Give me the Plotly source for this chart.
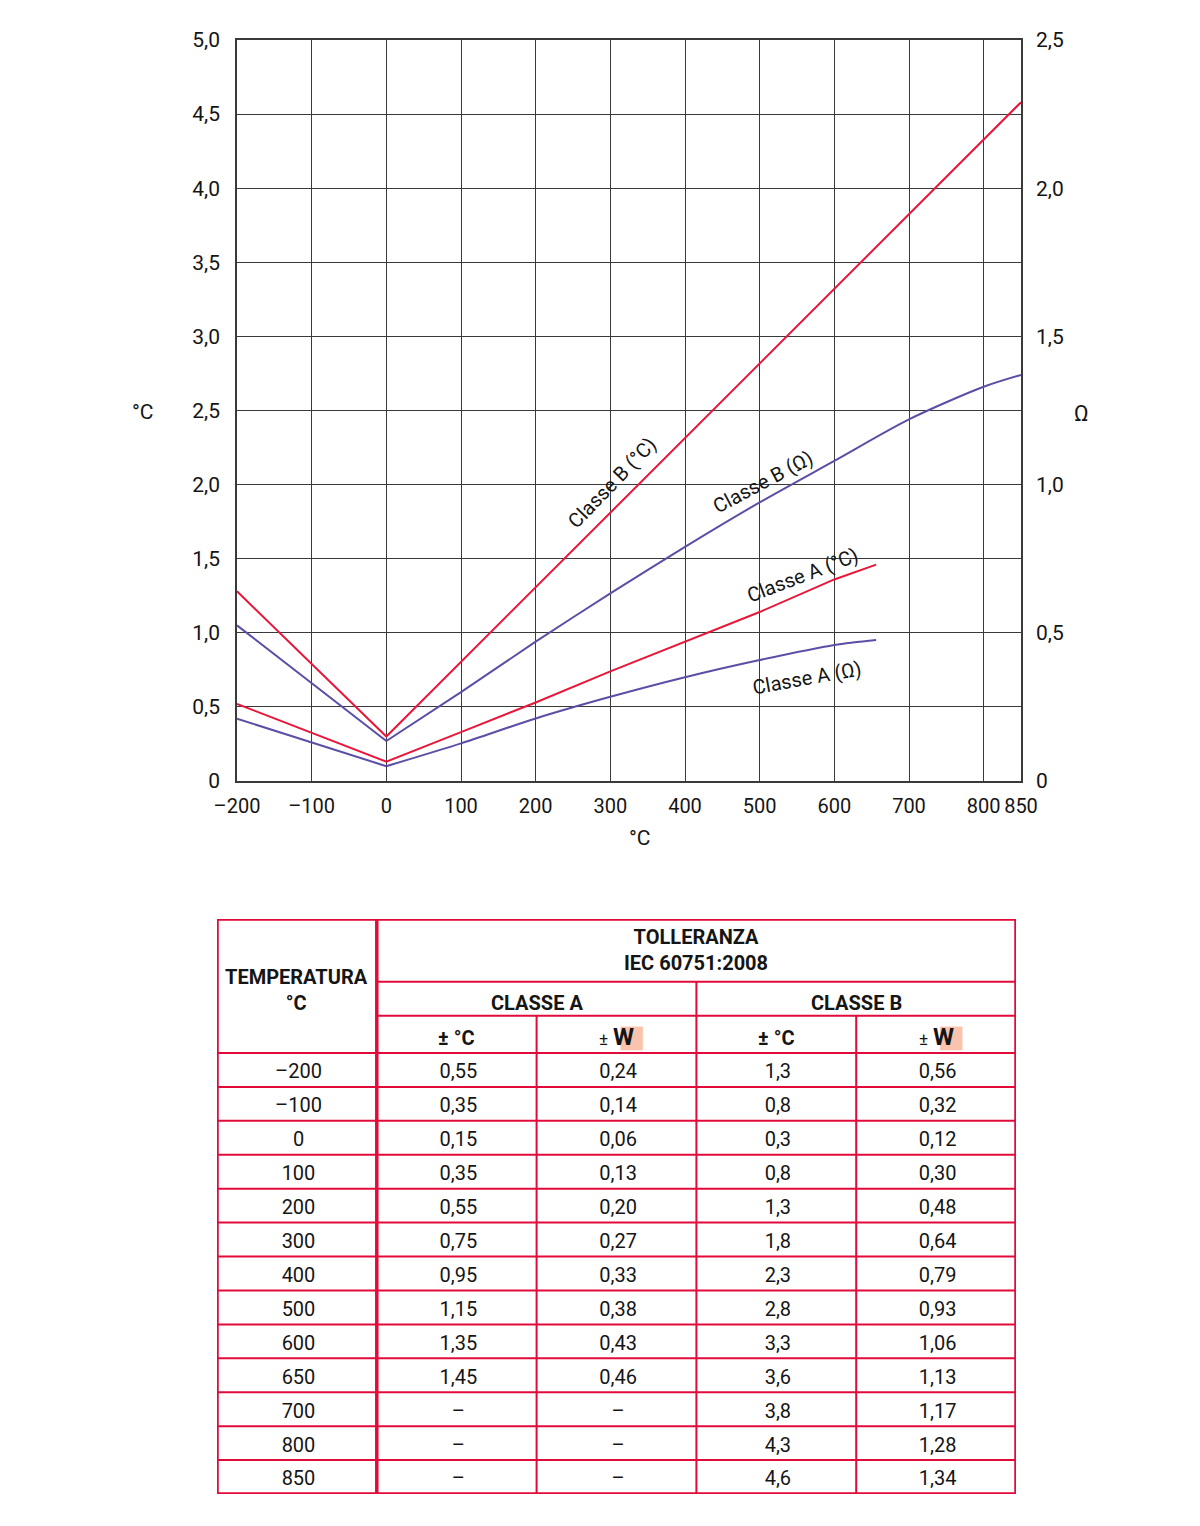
import plotly.graph_objects as go

# ---------------- data (table) ----------------
temps = [-200, -100, 0, 100, 200, 300, 400, 500, 600, 650, 700, 800, 850]
classe_a_c = [0.55, 0.35, 0.15, 0.35, 0.55, 0.75, 0.95, 1.15, 1.35, 1.45, None, None, None]
classe_a_ohm = [0.24, 0.14, 0.06, 0.13, 0.20, 0.27, 0.33, 0.38, 0.43, 0.46, None, None, None]
classe_b_c = [1.3, 0.8, 0.3, 0.8, 1.3, 1.8, 2.3, 2.8, 3.3, 3.6, 3.8, 4.3, 4.6]
classe_b_ohm = [0.56, 0.32, 0.12, 0.30, 0.48, 0.64, 0.79, 0.93, 1.06, 1.13, 1.17, 1.28, 1.34]

# ---------------- data (curves) ----------------
curve_b_c_x = [-200, 0, 850]
curve_b_c_y = [1.28, 0.30, 4.58]
curve_a_c_x = [-200, 0, 100, 200, 300, 400, 500, 600, 656]
curve_a_c_y = [0.52, 0.13, 0.33, 0.53, 0.74, 0.94, 1.14, 1.36, 1.46]
# Ohm curves: negative branch (straight) and positive branch (curved)
curve_b_ohm_neg_x = [-200, 0]
curve_b_ohm_neg_y = [0.525, 0.135]
curve_b_ohm_pos_x = [0, 100, 200, 300, 400, 500, 600, 700, 800, 850]
curve_b_ohm_pos_y = [0.135, 0.30, 0.47, 0.633, 0.79, 0.94, 1.08, 1.22, 1.33, 1.37]
curve_a_ohm_neg_x = [-200, 0]
curve_a_ohm_neg_y = [0.21, 0.05]
curve_a_ohm_pos_x = [0, 100, 200, 300, 400, 500, 600, 656]
curve_a_ohm_pos_y = [0.05, 0.127, 0.211, 0.284, 0.35, 0.408, 0.459, 0.476]

x_ticks = [-200, -100, 0, 100, 200, 300, 400, 500, 600, 700, 800, 850]
x_ticktext = ["\u2013200", "\u2013100", "0", "100", "200", "300", "400", "500", "600", "700", "800", "850"]
y_ticks = [0, 0.5, 1.0, 1.5, 2.0, 2.5, 3.0, 3.5, 4.0, 4.5, 5.0]
y_ticktext = ["0", "0,5", "1,0", "1,5", "2,0", "2,5", "3,0", "3,5", "4,0", "4,5", "5,0"]
y2_ticks = [0, 0.5, 1.0, 1.5, 2.0, 2.5]
y2_ticktext = ["0", "0,5", "1,0", "1,5", "2,0", "2,5"]

# ---------------- style ----------------
W, H = 1200, 1526
OFF = 8  # page body margin
FONT = "Roboto, Liberation Sans, sans-serif"
RED = "#e8173a"
PURPLE = "#5a4fa6"
GRID = "#3a3a3a"
TRED = "#e20a3a"
TXT = "#151515"


def fx(px):
    return (px - OFF) / W


def fy(py):
    return 1 - (py - OFF) / H


fig = go.Figure()


def add_line(xs, ys, color, yaxis, shape="linear"):
    fig.add_trace(go.Scatter(x=xs, y=ys, mode="lines",
                             line=dict(color=color, width=2, shape=shape, smoothing=0.8),
                             xaxis="x", yaxis=yaxis, showlegend=False, hoverinfo="skip"))


add_line(curve_b_c_x, curve_b_c_y, RED, "y")
add_line(curve_a_c_x, curve_a_c_y, RED, "y")
add_line(curve_b_ohm_neg_x, curve_b_ohm_neg_y, PURPLE, "y2")
add_line(curve_b_ohm_pos_x, curve_b_ohm_pos_y, PURPLE, "y2", "spline")
add_line(curve_a_ohm_neg_x, curve_a_ohm_neg_y, PURPLE, "y2")
add_line(curve_a_ohm_pos_x, curve_a_ohm_pos_y, PURPLE, "y2", "spline")

# line labels
labels = [
    ("Classe B (°C)", 302, 2.01, -46),
    ("Classe B (Ω)", 504, 2.02, -28),
    ("Classe A (°C)", 558, 1.39, -21),
    ("Classe A (Ω)", 563, 0.695, -10),
]
annotations = []
for t, lx, ly, ang in labels:
    annotations.append(dict(text=t, x=lx, y=ly, xref="x", yref="y", showarrow=False,
                            xanchor="center", yanchor="middle",
                            textangle=ang, font=dict(family=FONT, size=20, color=TXT)))

# axis titles
for t, px, py, sz in [("°C", 143, 412, 21), ("Ω", 1081, 414, 22), ("°C", 640, 838, 21)]:
    annotations.append(dict(text=t, x=fx(px), y=fy(py), xref="paper", yref="paper",
                            xanchor="center", yanchor="middle",
                            showarrow=False, font=dict(family=FONT, size=sz, color=TXT)))

# ---------------- table (on its own axes) ----------------
HDR1_TOP, HDR2_TOP, HDR3_TOP = -3.95, -2.1, -1.1
n_rows = len(temps)
shapes = []


def hline(y, x0, x1, w=2):
    shapes.append(dict(type="line", xref="x3", yref="y3", x0=x0, x1=x1, y0=y, y1=y,
                       line=dict(color=TRED, width=w)))


def vline(x, y0, y1, w=2):
    shapes.append(dict(type="line", xref="x3", yref="y3", x0=x, x1=x, y0=y0, y1=y1,
                       line=dict(color=TRED, width=w)))


for cx in (2, 4):
    shapes.append(dict(type="rect", xref="x3", yref="y3", x0=cx + 0.525, x1=cx + 0.665,
                       y0=-0.78, y1=-0.08, fillcolor="#f9c3ad", line=dict(width=0), layer="below"))

hline(HDR2_TOP, 1, 5)
hline(HDR3_TOP, 1, 5)
hline(0, 0, 5)
for i in range(1, n_rows):
    hline(i, 0, 5)
vline(3, HDR2_TOP, n_rows)
vline(2, HDR3_TOP, n_rows)
vline(4, HDR3_TOP, n_rows)
vline(1, HDR1_TOP, n_rows, w=3.5)
shapes.append(dict(type="rect", xref="x3", yref="y3", x0=0, x1=5, y0=HDR1_TOP, y1=n_rows,
                   line=dict(color=TRED, width=3.5)))

hfont = dict(family=FONT, size=20, color=TXT)


def tann(text, x, y):
    annotations.append(dict(text=text, x=x, y=y, xref="x3", yref="y3", showarrow=False,
                            xanchor="center", yanchor="middle", font=hfont))


tann("<b>TEMPERATURA</b><br><b>°C</b>", 0.5, -1.85)
tann("<b>TOLLERANZA</b><br><b>IEC 60751:2008</b>", 3, (HDR1_TOP + HDR2_TOP) / 2)
tann("<b>CLASSE A</b>", 2, (HDR2_TOP + HDR3_TOP) / 2 + 0.12)
tann("<b>CLASSE B</b>", 4, (HDR2_TOP + HDR3_TOP) / 2 + 0.12)
for cx in (1.5, 3.5):
    tann("<b>± °C</b>", cx, HDR3_TOP / 2 + 0.1)
for cx in (2.5, 4.5):
    tann("<span style='font-size:17px'>±</span> <b><span style='font-size:24px'>W</span></b>",
         cx, HDR3_TOP / 2 + 0.08)


def fmt(v, nd):
    if v is None:
        return "\u2013"
    return f"{v:.{nd}f}".replace(".", ",")


cell_x, cell_y, cell_t = [], [], []
for i, t in enumerate(temps):
    row = [str(t).replace("-", "\u2013"), fmt(classe_a_c[i], 2), fmt(classe_a_ohm[i], 2),
           fmt(classe_b_c[i], 1), fmt(classe_b_ohm[i], 2)]
    for j, s in enumerate(row):
        cell_x.append(j + 0.51)
        cell_y.append(i + 0.6)
        cell_t.append(s)

fig.add_trace(go.Scatter(x=cell_x, y=cell_y, text=cell_t, mode="text", xaxis="x3", yaxis="y3",
                         textfont=dict(family=FONT, size=20, color=TXT), showlegend=False,
                         hoverinfo="skip"))

# ---------------- layout ----------------
axis_font = dict(family=FONT, size=21, color=TXT)
fig.update_layout(
    width=W, height=H,
    margin=dict(l=0, r=0, t=0, b=0, pad=0, autoexpand=False),
    paper_bgcolor="white", plot_bgcolor="white",
    showlegend=False,
    xaxis=dict(domain=[fx(237), fx(1021)], anchor="y", range=[-200, 850],
               tickvals=x_ticks, ticktext=x_ticktext, tickfont=dict(family=FONT, size=20, color=TXT),
               tickangle=0,
               showgrid=True, gridcolor=GRID, gridwidth=1.3, zeroline=False,
               showline=True, linecolor=GRID, linewidth=1.5, mirror=True,
               ticks="", ticklabelstandoff=6, fixedrange=True, automargin=False),
    yaxis=dict(domain=[fy(781), fy(40)], anchor="x", range=[0, 5],
               tickvals=y_ticks, ticktext=y_ticktext, tickfont=axis_font,
               showgrid=True, gridcolor=GRID, gridwidth=1.3, zeroline=False,
               showline=True, linecolor=GRID, linewidth=1.5, mirror=True,
               ticks="", ticklabelstandoff=11, fixedrange=True, automargin=False),
    yaxis2=dict(overlaying="y", side="right", anchor="x", range=[0, 2.5],
                tickvals=y2_ticks, ticktext=y2_ticktext, tickfont=axis_font,
                showgrid=False, zeroline=False, showline=False,
                ticks="", ticklabelstandoff=14, fixedrange=True, automargin=False),
    xaxis3=dict(domain=[fx(217), fx(1016)], anchor="y3", range=[0, 5],
                visible=False, fixedrange=True, automargin=False),
    yaxis3=dict(domain=[fy(1494), fy(919)], anchor="x3", range=[n_rows, HDR1_TOP],
                visible=False, fixedrange=True, automargin=False),
    shapes=shapes,
    annotations=annotations,
)

fig.write_html("out.html", config={"displayModeBar": False})
